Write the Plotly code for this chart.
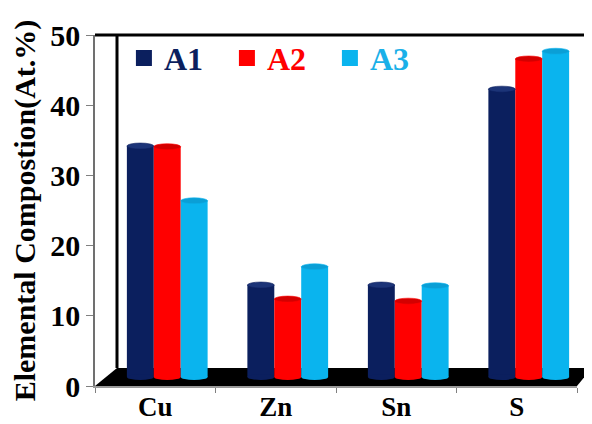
import plotly.graph_objects as go

categories = ["Cu", "Zn", "Sn", "S"]
series_names = ["A1", "A2", "A3"]
a1 = [32.9, 13.1, 13.1, 41.0]
a2 = [32.8, 11.1, 10.8, 45.3]
a3 = [25.1, 15.7, 13.0, 46.4]
y_ticks = [0, 10, 20, 30, 40, 50]

colors = ["#0b1f5e", "#ff0000", "#0ab4ee"]
cap_colors = ["#1c3478", "#d40000", "#0a9fd6"]
text_colors = ["#0b1f5e", "#ff0000", "#1ab0e8"]

FONT = "Liberation Serif"
values = [a1, a2, a3]

# layout geometry (pixels); page body has an 8px margin
W, H = 584, 416
L, R, T, B = 87, 15, 27, 38
pw, ph = W - L - R, H - T - B
cat_px = pw / len(categories)
px_per_unit = ph / 50.0
depth_dx = 12  # 3D offset of the bars (px)
depth_dy = 9
bargap = 0.33

fig = go.Figure()

for name, vals, c in zip(series_names, values, colors):
    fig.add_trace(go.Bar(
        x=categories, y=vals, name=name, marker=dict(color=c, line=dict(width=0)),
        xaxis="x2", yaxis="y2", showlegend=False,
    ))

# legend entries
for name, c, tc in zip(series_names, colors, text_colors):
    fig.add_trace(go.Scatter(
        x=[None], y=[None], mode="markers", name=f"<span style='color:{tc}'>{name}</span>",
        marker=dict(symbol="square", size=20, color=c),
        xaxis="x", yaxis="y", showlegend=True,
    ))

# cylinder caps derived from the data
shapes = []
bw = (1 - bargap) / 3
half_h = 3 / px_per_unit
for k, (vals, c, cc) in enumerate(zip(values, colors, cap_colors)):
    off = (k - 1) * bw
    for i, v in enumerate(vals):
        xc = i + off
        shapes.append(dict(type="circle", xref="x2", yref="y2", x0=xc - bw / 2, x1=xc + bw / 2,
                           y0=-half_h, y1=half_h, fillcolor=c, line=dict(width=0), layer="above"))
        shapes.append(dict(type="circle", xref="x2", yref="y2", x0=xc - bw / 2, x1=xc + bw / 2,
                           y0=v - half_h, y1=v + half_h, fillcolor=cc, line=dict(width=0.6, color=c), layer="above"))

# 3D frame decorations (paper coords)
fx = 22 / pw
fy = 18 / ph
shapes.append(dict(type="path", xref="paper", yref="paper",
                   path=f"M 0 0 L {fx} {fy} L {1 + 15 / pw} {fy} L 1 0 Z",
                   fillcolor="black", line=dict(width=0), layer="below"))
shapes.append(dict(type="line", xref="paper", yref="paper", x0=fx, x1=fx, y0=fy, y1=1,
                   line=dict(color="black", width=3), layer="below"))
shapes.append(dict(type="line", xref="paper", yref="paper", x0=0, x1=1 + 15 / pw, y0=1, y1=1,
                   line=dict(color="black", width=3), layer="below"))

shift_x = depth_dx / cat_px
shift_y = depth_dy / px_per_unit

fig.update_layout(
    width=W, height=H,
    margin=dict(l=L, r=R, t=T, b=B, pad=0, autoexpand=False),
    paper_bgcolor="white", plot_bgcolor="white",
    barmode="group", bargap=bargap, bargroupgap=0,
    font=dict(family=FONT, size=28, color="black", weight="bold"),
    shapes=shapes,
    xaxis=dict(type="category", categoryarray=categories, range=[-0.5, len(categories) - 0.5],
               tickson="boundaries", ticks="outside", ticklen=5, tickcolor="#808080",
               showline=True, linecolor="#9a9a9a", linewidth=1.5, showgrid=False, automargin=False,
               ticklabelstandoff=-4,
               tickfont=dict(family=FONT, size=27, color="black", weight="bold")),
    yaxis=dict(range=[0, 50], tickvals=y_ticks, ticks="outside", ticklen=7, tickcolor="#808080",
               showline=True, linecolor="#707070", linewidth=1.5, showgrid=False, zeroline=False,
               automargin=False,
               tickfont=dict(family=FONT, size=30, color="black", weight="bold"),
               title=dict(text="Elemental Compostion(At.%)",
                          font=dict(family=FONT, size=30, color="black", weight="bold"), standoff=6)),
    xaxis2=dict(type="category", categoryarray=categories, overlaying="x",
                range=[-0.5 - shift_x, len(categories) - 0.5 - shift_x], visible=False),
    yaxis2=dict(overlaying="y", range=[-shift_y, 50 - shift_y], visible=False),
    legend=dict(orientation="h", x=0.06, y=0.934, xanchor="left", yanchor="middle",
                entrywidth=58, entrywidthmode="pixels", bgcolor="rgba(0,0,0,0)",
                font=dict(family=FONT, size=32, weight="bold"), itemsizing="trace"),
)

fig.write_html("out.html")
